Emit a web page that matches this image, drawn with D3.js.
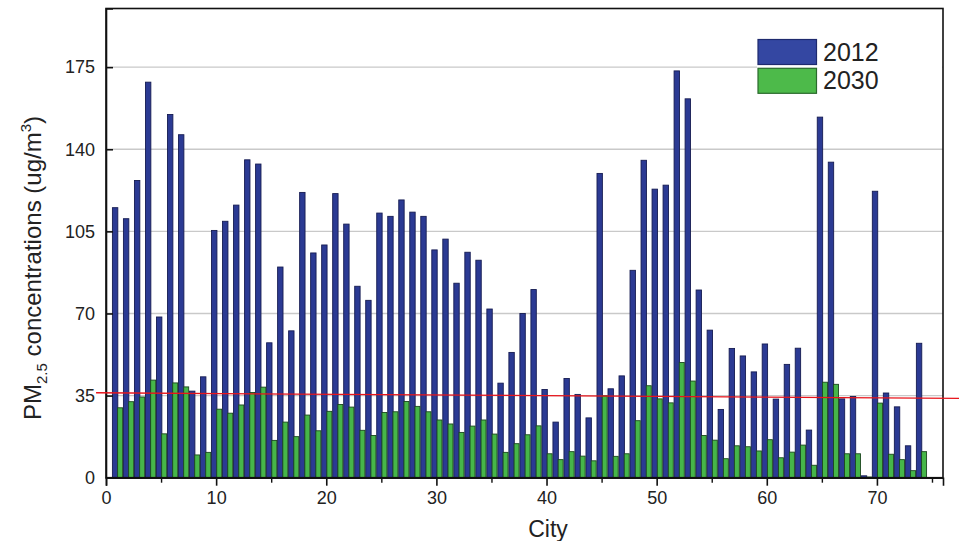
<!DOCTYPE html>
<html>
<head>
<meta charset="utf-8">
<script src="https://cdn.jsdelivr.net/npm/d3@7"></script>
<style>
  html, body { margin: 0; padding: 0; background: #ffffff; }
  svg { display: block; }
  text { font-family: "Liberation Sans", Arial, sans-serif; fill: #222; }
</style>
</head>
<body>
<svg id="chart" width="959" height="541"></svg>
<script>
// ---- data ----
const cities = d3.range(1, 75);
const pm2012 = [115.1,110.4,126.7,168.6,68.5,154.8,146.2,36.9,43.0,105.4,
  109.3,116.2,135.5,133.7,57.5,89.8,62.6,121.6,95.8,99.2,
  121.1,108.1,81.6,75.6,112.8,111.4,118.4,113.2,111.4,97.1,
  101.7,82.9,96.1,92.7,71.9,40.3,53.4,70.0,80.2,37.6,
  23.7,42.3,35.5,25.5,129.7,37.9,43.4,88.4,135.3,123.0,
  124.7,173.4,161.5,80.0,62.9,29.1,55.1,51.9,45.1,57.0,
  33.5,48.3,55.2,20.3,153.7,134.5,33.6,34.6,0.8,122.1,
  36.1,30.2,13.6,57.3];
const pm2030 = [29.8,32.4,34.4,41.6,18.7,40.4,38.7,9.7,10.8,29.2,
  27.5,31.0,36.3,38.6,15.9,23.7,17.5,26.7,20.0,28.3,
  31.2,30.1,20.2,18.0,27.8,28.1,32.5,30.4,28.1,24.6,
  22.9,19.3,22.0,24.6,18.6,10.8,14.5,18.3,22.1,10.2,
  7.7,11.1,9.2,7.2,34.9,9.1,10.2,24.3,39.2,33.6,
  31.9,49.1,41.2,18.0,16.0,8.1,13.6,13.2,11.4,16.2,
  8.5,10.9,13.9,5.3,40.7,39.8,10.2,10.2,0.3,31.8,
  10.0,7.7,3.0,11.1];
const seriesNames = ["2012", "2030"];
const yTicks = [0, 35, 70, 105, 140, 175];
const xTicks = [0, 10, 20, 30, 40, 50, 60, 70];
const xMinorTicks = [5, 15, 25, 35, 45, 55, 65, 75];
// hand-drawn reference line (35 ug/m3 standard), endpoints [x, y]
const refLine = [[-0.9, 36.2], [77.5, 33.8]];

// ---- layout ----
const svg = d3.select("#chart");
const L = 106, R = 943, T = 8.5, B = 477.7;
const x = d3.scaleLinear().domain([0, 76]).range([L, R]);
const y = d3.scaleLinear().domain([0, 200]).range([B, T]);

const blueFill = "#2b3a93", blueStroke = "#161c52";
const greenFill = "#46b649", greenStroke = "#1c471f";

// gridlines
svg.append("g").selectAll("line").data(yTicks.filter(d => d > 0)).join("line")
  .attr("x1", L).attr("x2", R)
  .attr("y1", d => y(d)).attr("y2", d => y(d))
  .attr("stroke", "#c9c9c9").attr("stroke-width", 1.3);

// bars
const bw = 5.4;
svg.append("g").selectAll("rect").data(cities).join("rect")
  .attr("x", (d) => x(d) - 4.6)
  .attr("y", (d, i) => y(pm2012[i]))
  .attr("width", bw)
  .attr("height", (d, i) => B - y(pm2012[i]))
  .attr("fill", blueFill).attr("stroke", blueStroke).attr("stroke-width", 0.9);
svg.append("g").selectAll("rect").data(cities).join("rect")
  .attr("x", (d) => x(d) + 0.6)
  .attr("y", (d, i) => y(pm2030[i]))
  .attr("width", bw - 0.4)
  .attr("height", (d, i) => B - y(pm2030[i]))
  .attr("fill", greenFill).attr("stroke", greenStroke).attr("stroke-width", 0.9);

// legend (white background hides gridline)
const lg = svg.append("g");
lg.append("rect").attr("x", 757).attr("y", 33).attr("width", R - 757 - 1).attr("height", 66).attr("fill", "#fff");
const legColors = [["#3447a2", "#1e2a6e"], ["#4dba4a", "#2a6a2c"]];
seriesNames.forEach((n, i) => {
  lg.append("rect").attr("x", 758).attr("y", 39.5 + i * 28.8).attr("width", 58.5).attr("height", 25)
    .attr("fill", legColors[i][0]).attr("stroke", legColors[i][1]).attr("stroke-width", 1.2);
  lg.append("text").attr("x", 823).attr("y", 60.5 + i * 28.2).attr("font-size", 25).text(n);
});

// frame
svg.append("rect").attr("x", L).attr("y", T).attr("width", R - L).attr("height", B - T)
  .attr("fill", "none").attr("stroke", "#111").attr("stroke-width", 1.6);

// axes
const yAxis = d3.axisLeft(y).tickValues(yTicks).tickSize(-7).tickPadding(11);
const gy = svg.append("g").attr("transform", `translate(${L},0)`).call(yAxis);
gy.select(".domain").attr("stroke", "#111").attr("stroke-width", 1.6);
gy.selectAll(".tick line").attr("stroke", "#111").attr("stroke-width", 1.6);
gy.selectAll("text").attr("font-size", 18).attr("fill", "#222")
  .attr("font-family", "Liberation Sans, Arial, sans-serif");

const xAxis = d3.axisBottom(x).tickValues(xTicks).tickSize(8).tickPadding(6);
const gx = svg.append("g").attr("transform", `translate(0,${B})`).call(xAxis);
gx.select(".domain").attr("stroke", "#111").attr("stroke-width", 1.6);
gx.selectAll(".tick line").attr("stroke", "#111").attr("stroke-width", 1.6);
gx.selectAll("text").attr("font-size", 18).attr("fill", "#222")
  .attr("font-family", "Liberation Sans, Arial, sans-serif");
const xMinor = d3.axisBottom(x).tickValues(xMinorTicks).tickSize(5).tickFormat("");
const gxm = svg.append("g").attr("transform", `translate(0,${B})`).call(xMinor);
gxm.select(".domain").remove();
gxm.selectAll(".tick line").attr("stroke", "#111").attr("stroke-width", 1.4);

// red reference line
svg.append("line")
  .attr("x1", x(refLine[0][0])).attr("y1", y(refLine[0][1]))
  .attr("x2", x(refLine[1][0])).attr("y2", y(refLine[1][1]))
  .attr("stroke", "#e8141b").attr("stroke-width", 1.3);

// axis titles
svg.append("text").attr("x", 548).attr("y", 537).attr("text-anchor", "middle")
  .attr("font-size", 23).text("City");
const yt = svg.append("text").attr("transform", "translate(41,268) rotate(-90)")
  .attr("text-anchor", "middle").attr("font-size", 24);
yt.append("tspan").text("PM");
yt.append("tspan").attr("font-size", 15).attr("dy", 6).text("2.5");
yt.append("tspan").attr("dy", -6).text(" concentrations (ug/m");
yt.append("tspan").attr("font-size", 15).attr("dy", -10).text("3");
yt.append("tspan").attr("dy", 10).text(")");
</script>
</body>
</html>
